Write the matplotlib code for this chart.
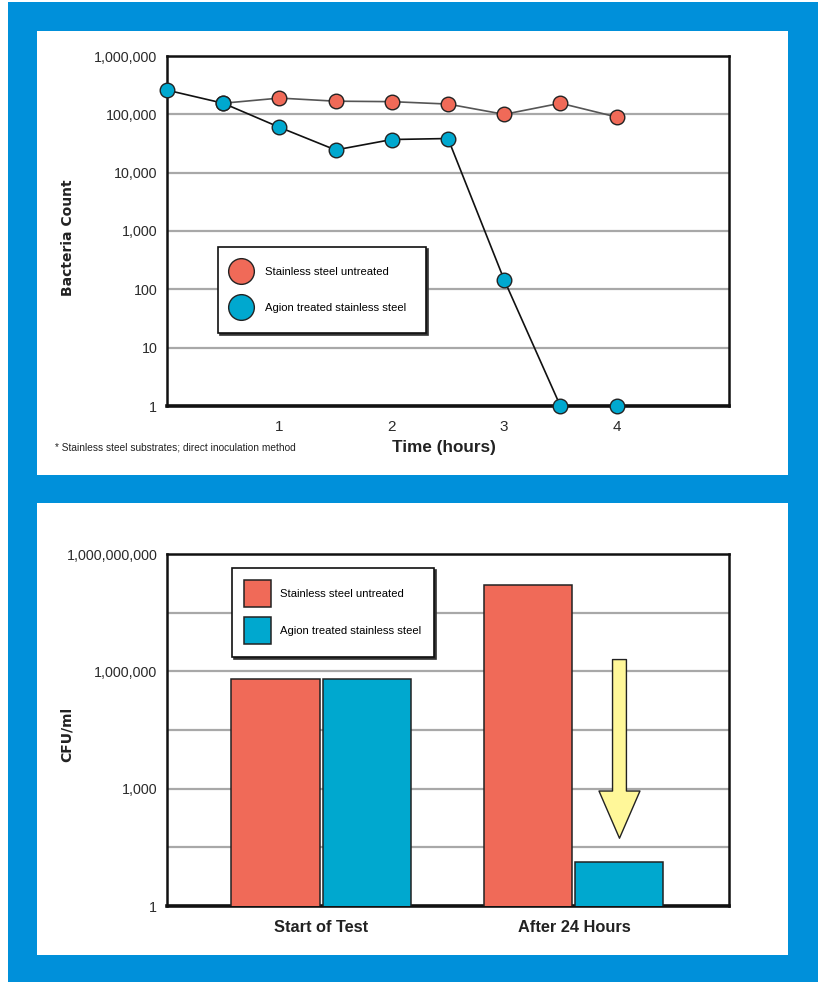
import numpy as np
import matplotlib
matplotlib.use('Agg')
import matplotlib.pyplot as plt
from matplotlib.patches import Rectangle, Patch
from matplotlib.lines import Line2D

plt.rcParams['font.family'] = ['Liberation Sans Narrow', 'Liberation Sans', 'DejaVu Sans']

# cores
azulFundo = '#0090da'
laranja = '#f06a58'
ciano = '#00a8cf'
amarelo = '#fff799'

# dados do grafico de cima (contagem de bacterias x tempo)
series = ['Stainless steel untreated', 'Agion treated stainless steel']
horasNaoTratado = [0.5, 1, 1.5, 2, 2.5, 3, 3.5, 4]
contagemNaoTratado = [155000, 190000, 168000, 165000, 150000, 100000, 155000, 90000]
horasTratado = [0, 0.5, 1, 1.5, 2, 2.5, 3, 3.5, 4]
contagemTratado = [260000, 155000, 60000, 24500, 37000, 38500, 145, 1, 1]
ticksTempo = [1, 2, 3, 4]
ticksContagem = [1, 10, 100, 1000, 10000, 100000, 1000000]
labelsContagem = ['1', '10', '100', '1,000', '10,000', '100,000', '1,000,000']

# dados do grafico de baixo (CFU/ml)
momentos = ['Start of Test', 'After 24 Hours']
cfuNaoTratado = [620000, 160000000]
cfuTratado = [620000, 13]
ticksCfu = [1, 1000, 1000000, 1000000000]
labelsCfu = ['1', '1,000', '1,000,000', '1,000,000,000']
gradeCfu = [10**1.5, 10**4.5, 10**7.5]
setaTopo, setaPonta = 2.0e6, 54

W, H = 820, 982
fig = plt.figure(figsize=(W / 100, H / 100), dpi=100)
fig.patch.set_facecolor('white')

def px(x0, y0, x1, y1):
    # converte caixa em pixels (origem em cima) para fracao da figura
    return [x0 / W, 1 - y1 / H, (x1 - x0) / W, (y1 - y0) / H]

# moldura azul e paineis brancos
fig.add_artist(Rectangle((8 / W, 0), 810 / W, 980 / H, transform=fig.transFigure,
                         facecolor=azulFundo, edgecolor='none', zorder=-10))
for caixa in [(37, 31, 788, 475), (37, 503, 788, 955)]:
    b = px(*caixa)
    fig.add_artist(Rectangle((b[0], b[1]), b[2], b[3], transform=fig.transFigure,
                             facecolor='white', edgecolor='none', zorder=-9))

def estilo(ax, fundo_grosso=2.6):
    for lado in ['left', 'right', 'top']:
        ax.spines[lado].set_linewidth(1.8)
        ax.spines[lado].set_color('#111111')
    ax.spines['bottom'].set_linewidth(fundo_grosso)
    ax.spines['bottom'].set_color('#111111')
    ax.tick_params(axis='both', which='both', length=0)
    ax.tick_params(axis='y', pad=7, labelsize=10.3, colors='#2a2a2a')
    ax.set_axisbelow(True)

# ---------- grafico de cima ----------
ax1 = fig.add_axes(px(167, 56, 729, 406))
ax1.set_yscale('log')
ax1.set_ylim(1, 1e6)
ax1.set_xlim(0, 5)
ax1.yaxis.grid(True, which='major', color='#a8a8a8', linewidth=1.6)
ax1.set_yticks(ticksContagem)
ax1.set_yticklabels(labelsContagem)
ax1.yaxis.set_minor_locator(matplotlib.ticker.NullLocator())
ax1.set_xticks(ticksTempo)
ax1.set_xticklabels([str(t) for t in ticksTempo])
estilo(ax1)
ax1.tick_params(axis='x', pad=10, labelsize=11, colors='#2a2a2a')

ax1.plot(horasNaoTratado, contagemNaoTratado, color='#555555', linewidth=1.2,
         marker='o', markersize=10.5, markerfacecolor=laranja, markeredgecolor='#222222',
         markeredgewidth=1, clip_on=False, zorder=3)
ax1.plot(horasTratado, contagemTratado, color='#111111', linewidth=1.2,
         marker='o', markersize=10.5, markerfacecolor=ciano, markeredgecolor='#222222',
         markeredgewidth=1, clip_on=False, zorder=4)

ax1.set_xlabel('Time (hours)', fontsize=12.3, fontweight='bold', color='#222222')
ax1.xaxis.set_label_coords((444 - 167) / 562, (406 - 440) / 350)
ax1.set_ylabel('Bacteria Count', fontsize=10, fontweight='bold', family='DejaVu Sans', color='#222222')
ax1.yaxis.set_label_coords((75 - 167) / 562, (406 - 238) / 350)

handles1 = [Line2D([], [], linestyle='none', marker='o', markersize=18.5, markerfacecolor=c,
                   markeredgecolor='#222222', markeredgewidth=1) for c in [laranja, ciano]]
leg1 = ax1.legend(handles1, series, loc='upper left',
                  bbox_to_anchor=((218 - 167) / 562, (406 - 247) / 350),
                  fontsize=8.1, frameon=True, fancybox=False, edgecolor='#111111',
                  borderpad=1.75, labelspacing=2.36, handlelength=0.6, handletextpad=1.83,
                  borderaxespad=0, shadow={'ox': 1.5, 'oy': -1.5, 'color': '#333333', 'alpha': 1})
leg1.get_frame().set_linewidth(1.2)

fig.text(55 / W, 1 - 448 / H, '* Stainless steel substrates; direct inoculation method',
         fontsize=7.25, color='#222222', va='center', ha='left')

# ---------- grafico de baixo ----------
ax2 = fig.add_axes(px(167, 554, 729, 906))
ax2.set_yscale('log')
ax2.set_ylim(1, 1e9)
ax2.set_xlim(-0.609, 1.613)
ax2.set_yticks(ticksCfu)
ax2.set_yticklabels(labelsCfu)
ax2.set_yticks(gradeCfu, minor=True)
ax2.yaxis.set_minor_formatter(matplotlib.ticker.NullFormatter())
ax2.yaxis.grid(True, which='both', color='#a8a8a8', linewidth=1.6)
estilo(ax2)

x = np.arange(len(momentos))
larg = 0.348
folga = 0.012
ax2.bar(x - larg / 2 - folga / 2, cfuNaoTratado, width=larg, color=laranja,
        edgecolor='#222222', linewidth=1.1, zorder=3)
ax2.bar(x + larg / 2 + folga / 2, cfuTratado, width=larg, color=ciano,
        edgecolor='#222222', linewidth=1.1, zorder=3)
ax2.set_xticks(x)
ax2.set_xticklabels(momentos, fontsize=11.8, fontweight='bold', color='#222222')
ax2.tick_params(axis='x', pad=10)

xSeta = x[1] + larg / 2 + folga / 2
ax2.annotate('', xy=(xSeta, setaPonta), xytext=(xSeta, setaTopo),
             arrowprops=dict(arrowstyle='simple,head_length=3.4,head_width=2.95,tail_width=1.0',
                             mutation_scale=10, facecolor=amarelo, edgecolor='#222222',
                             linewidth=1, shrinkA=0, shrinkB=0), zorder=4)

ax2.set_ylabel('CFU/ml', fontsize=10, fontweight='bold', family='DejaVu Sans', color='#222222')
ax2.yaxis.set_label_coords((74 - 167) / 562, (906 - 734) / 352)

handles2 = [Patch(facecolor=c, edgecolor='#222222', linewidth=1.1) for c in [laranja, ciano]]
leg2 = ax2.legend(handles2, series, loc='upper left',
                  bbox_to_anchor=((232 - 167) / 562, (906 - 568) / 352),
                  fontsize=8.1, frameon=True, fancybox=False, edgecolor='#111111',
                  borderpad=1.1, labelspacing=0.89, handlelength=2.4, handleheight=3.3,
                  handletextpad=0.8, borderaxespad=0,
                  shadow={'ox': 1.5, 'oy': -1.5, 'color': '#333333', 'alpha': 1})
leg2.get_frame().set_linewidth(1.2)

fig.savefig('out.png', dpi=100, facecolor=fig.get_facecolor())
